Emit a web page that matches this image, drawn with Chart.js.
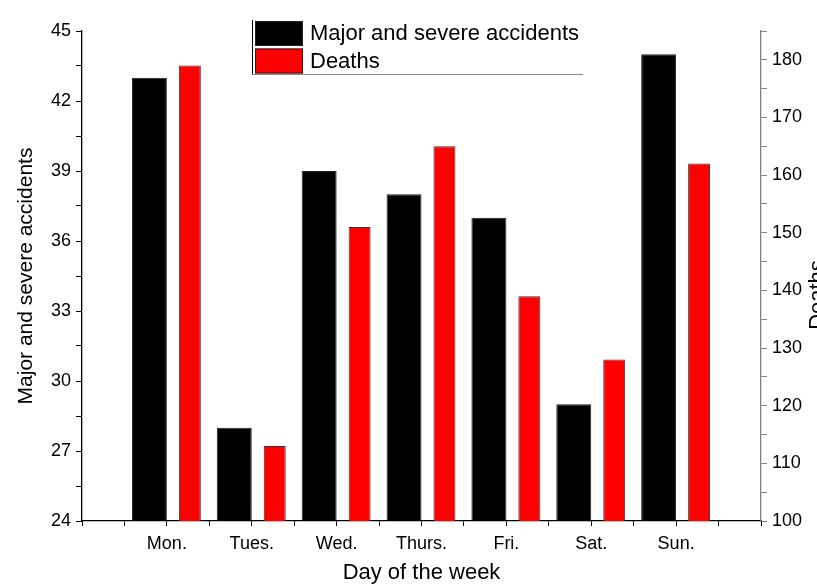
<!DOCTYPE html>
<html>
<head>
<meta charset="utf-8">
<script src="https://cdn.jsdelivr.net/npm/chart.js@4/dist/chart.umd.min.js"></script>
<style>
  html, body { margin: 0; padding: 0; background: #fff; }
  #wrap { width: 817px; height: 586px; }
</style>
</head>
<body>
<div id="wrap"><canvas id="myChart" width="817" height="586"></canvas></div>
<script>
var days = ['Mon.', 'Tues.', 'Wed.', 'Thurs.', 'Fri.', 'Sat.', 'Sun.'];
var accidents = [43, 28, 39, 38, 37, 29, 44];
var deaths = [179, 113, 151, 165, 139, 128, 162];
var leftTicks = [24, 27, 30, 33, 36, 39, 42, 45];
var rightTicks = [100, 110, 120, 130, 140, 150, 160, 170, 180];

var FONT = "'Liberation Sans', Arial, sans-serif";

function toPoints(arr) {
  return arr.map(function (v, i) { return { x: i + 1, y: v }; });
}

// legend drawn inside the plot, like the original
var boxLegend = {
  id: 'boxLegend',
  afterDatasetsDraw: function (chart) {
    var c = chart.ctx;
    var items = chart.data.datasets;
    c.save();
    c.strokeStyle = '#000';
    c.lineWidth = 1;
    c.beginPath(); c.moveTo(252.5, 20); c.lineTo(252.5, 75); c.stroke();
    c.strokeStyle = '#888';
    c.beginPath(); c.moveTo(252, 74.5); c.lineTo(583, 74.5); c.stroke();
    c.font = '22px ' + FONT;
    c.textBaseline = 'middle';
    for (var i = 0; i < items.length; i++) {
      var y = 21 + i * 27.5;
      c.fillStyle = items[i].backgroundColor;
      c.fillRect(255, y, 48, 25);
      c.strokeStyle = '#222';
      c.strokeRect(255.5, y + 0.5, 47, 24);
      c.fillStyle = '#000';
      c.fillText(items[i].label, 310, y + 13);
    }
    c.restore();
  }
};

// right axis title reads bottom-to-top and is clipped at the edge
var rightTitle = {
  id: 'rightTitle',
  afterDraw: function (chart) {
    var c = chart.ctx;
    c.save();
    c.translate(824, 295);
    c.rotate(-Math.PI / 2);
    c.font = '22px ' + FONT;
    c.fillStyle = '#000';
    c.textAlign = 'center';
    c.textBaseline = 'alphabetic';
    c.fillText('Deaths', 0, 0);
    c.restore();
  }
};

var ctx = document.getElementById('myChart');
var myChart = new Chart(ctx, {
  type: 'bar',
  data: {
    datasets: [
      {
        label: 'Major and severe accidents',
        data: toPoints(accidents),
        yAxisID: 'y',
        backgroundColor: '#000000',
        borderColor: '#222222',
        borderWidth: 1,
        categoryPercentage: 1.647,
        barPercentage: 1.0
      },
      {
        label: 'Deaths',
        data: toPoints(deaths),
        yAxisID: 'y2',
        backgroundColor: '#FF0000',
        borderColor: '#333333',
        borderWidth: 1,
        categoryPercentage: 2.165,
        barPercentage: 0.478
      }
    ]
  },
  options: {
    responsive: false,
    animation: false,
    layout: { padding: { top: 31, left: 0, right: 0, bottom: 0 } },
    plugins: {
      legend: { display: false },
      tooltip: { enabled: false }
    },
    scales: {
      x: {
        type: 'linear',
        position: 'bottom',
        offset: false,
        min: 0,
        max: 8,
        afterFit: function (s) { s.height = 65; },
        border: { color: '#000', width: 1.3 },
        grid: { offset: false, drawOnChartArea: false, drawTicks: true, tickLength: 5, color: '#000' },
        ticks: {
          stepSize: 0.5,
          autoSkip: false,
          maxRotation: 0,
          padding: 7,
          color: '#000',
          font: { family: FONT, size: 18 },
          callback: function (v) {
            return (Number.isInteger(v) && v >= 1 && v <= days.length) ? days[v - 1] : '';
          }
        },
        title: {
          display: true,
          text: 'Day of the week',
          color: '#000',
          font: { family: FONT, size: 22 },
          padding: { top: 0, bottom: 0 }
        }
      },
      y: {
        position: 'left',
        min: leftTicks[0],
        max: leftTicks[leftTicks.length - 1],
        afterFit: function (s) { s.width = 82; },
        border: { color: '#000', width: 1.3 },
        grid: { drawOnChartArea: false, drawTicks: true, tickLength: 6, color: '#000' },
        ticks: {
          stepSize: 1.5,
          padding: 5,
          color: '#000',
          font: { family: FONT, size: 18 },
          callback: function (v) { return leftTicks.indexOf(v) >= 0 ? v : ''; }
        },
        title: {
          display: true,
          text: 'Major and severe accidents',
          color: '#000',
          font: { family: FONT, size: 21 },
          padding: { top: 14, bottom: 0 }
        }
      },
      y2: {
        position: 'right',
        min: 100,
        max: 185,
        afterFit: function (s) { s.width = 56; },
        border: { color: '#808080', width: 1.3 },
        grid: { drawOnChartArea: false, drawTicks: true, tickLength: 6, color: '#808080' },
        ticks: {
          stepSize: 5,
          padding: 5,
          color: '#000',
          font: { family: FONT, size: 18 },
          callback: function (v) { return rightTicks.indexOf(v) >= 0 ? v : ''; }
        }
      }
    }
  },
  plugins: [boxLegend, rightTitle]
});
</script>
</body>
</html>
